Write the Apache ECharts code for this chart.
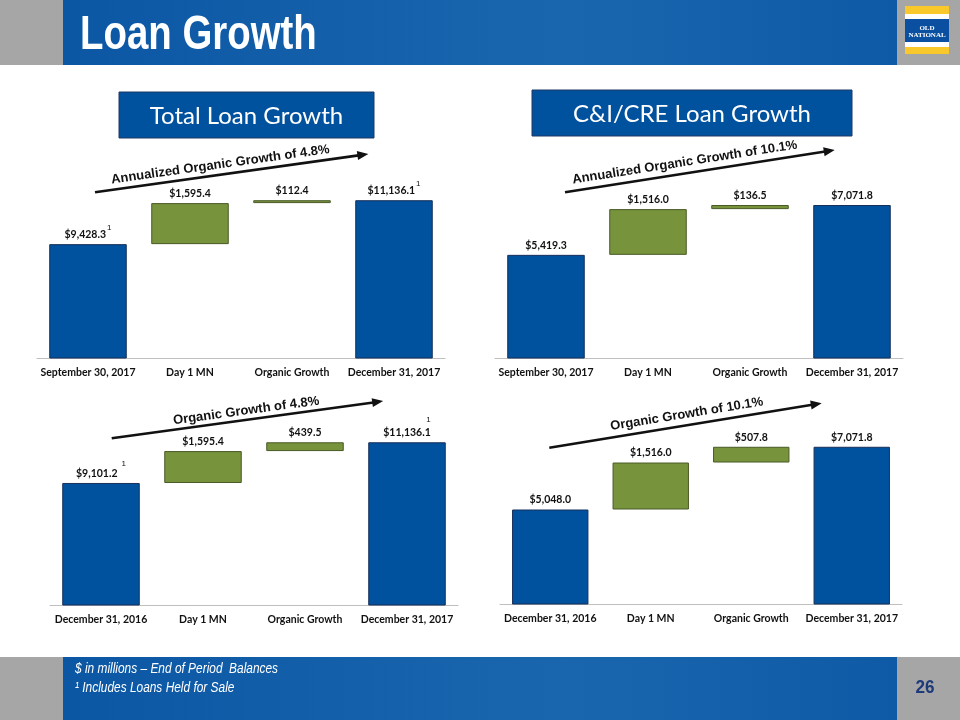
<!DOCTYPE html>
<html>
<head>
<meta charset="utf-8">
<script src="https://cdn.jsdelivr.net/npm/echarts@6/dist/echarts.min.js"></script>
<style>
html,body{margin:0;padding:0;background:#ffffff;}
#c{width:960px;height:720px;}
</style>
</head>
<body>
<div id="c"></div>
<script>
// ---------- data ----------
const categoriesQuarter = ['September 30, 2017', 'Day 1 MN', 'Organic Growth', 'December 31, 2017'];
const categoriesYear = ['December 31, 2016', 'Day 1 MN', 'Organic Growth', 'December 31, 2017'];

// [start balance, Day 1 MN, organic growth, end balance]  ($ in millions)
const totalQuarterValues = [9428.3, 1595.4, 112.4, 11136.1];
const ciCreQuarterValues = [5419.3, 1516.0, 136.5, 7071.8];
const totalYearValues = [9101.2, 1595.4, 439.5, 11136.1];
const ciCreYearValues = [5048.0, 1516.0, 507.8, 7071.8];

// footnote "1" markers (Includes Loans Held for Sale)
const totalQuarterNotes = [1, 0, 0, 1];
const ciCreQuarterNotes = [0, 0, 0, 0];
const totalYearNotes = [1, 0, 0, 1];
const ciCreYearNotes = [0, 0, 0, 0];

const growthLabels = ['Annualized Organic Growth of 4.8%', 'Annualized Organic Growth of 10.1%', 'Organic Growth of 4.8%', 'Organic Growth of 10.1%'];
const panelTitles = ['Total Loan Growth', 'C&I/CRE Loan Growth'];

// value-axis ranges for each panel
const axisMins = [5000, 2000, 3000, 2000];
const axisMaxs = [12000, 8000, 12000, 8000];

// ---------- styling / layout ----------
const BLUE = '#00519E';
const GREEN = '#77933C';
const LABEL_FONT = 'Lato, "Open Sans", sans-serif';
const ARIAL = '"Liberation Sans", Arial, sans-serif';

const panels = [
  { values: totalQuarterValues, cats: categoriesQuarter, notes: totalQuarterNotes, noteMode: ['a', null, null, 'a'],
    grid: { left: 37, top: 178, width: 408, height: 180 } },
  { values: ciCreQuarterValues, cats: categoriesQuarter, notes: ciCreQuarterNotes, noteMode: [null, null, null, null],
    grid: { left: 495, top: 177, width: 408, height: 181 } },
  { values: totalYearValues, cats: categoriesYear, notes: totalYearNotes, noteMode: ['b', null, null, 'above'],
    grid: { left: 50, top: 425, width: 408, height: 180 } },
  { values: ciCreYearValues, cats: categoriesYear, notes: ciCreYearNotes, noteMode: [null, null, null, null],
    grid: { left: 500, top: 418, width: 402, height: 186 } }
];

const fmt = v => '$' + v.toLocaleString('en-US', { minimumFractionDigits: 1, maximumFractionDigits: 1 });

const valStyle = { fontFamily: LABEL_FONT, fontWeight: 'bold', fontSize: 10.5, color: '#111', verticalAlign: 'bottom' };
const rich = {
  v: Object.assign({ lineHeight: 13 }, valStyle),
  va: Object.assign({ lineHeight: 16.5 }, valStyle),
  vb: Object.assign({ lineHeight: 19.5 }, valStyle),
  s: { fontFamily: ARIAL, fontSize: 8, color: '#111', lineHeight: 8, verticalAlign: 'top', padding: [0, 0, 0, 1] },
  sb: { fontFamily: ARIAL, fontSize: 8, color: '#111', lineHeight: 8, verticalAlign: 'top', padding: [0, 0, 0, 4] },
  sa: { fontFamily: ARIAL, fontSize: 8, color: '#111', lineHeight: 10, align: 'right', padding: [0, 0, 0, 0] }
};

function labelText(panel, i, value) {
  const t = fmt(value);
  if (!panel.notes[i]) return '{v|' + t + '}';
  const mode = panel.noteMode[i];
  if (mode === 'above') return '{sa|1}\n{v|' + t + '}';
  if (mode === 'b') return '{vb|' + t + '}{sb|1}';
  return '{va|' + t + '}{s|1}';
}

const grids = [], xAxes = [], yAxes = [], series = [];
panels.forEach((p, k) => {
  grids.push(Object.assign({ containLabel: false, outerBoundsMode: 'none' }, p.grid));
  xAxes.push({
    type: 'category', gridIndex: k, data: p.cats,
    axisTick: { show: false },
    axisLine: { lineStyle: { color: '#BFBFBF', width: 1 } },
    axisLabel: { interval: 0, margin: 9, color: '#111', fontFamily: LABEL_FONT, fontWeight: 'bold', fontSize: 10.5 },
    splitLine: { show: false }
  });
  yAxes.push({ type: 'value', gridIndex: k, min: axisMins[k], max: axisMaxs[k], show: false, splitLine: { show: false } });

  const v = p.values;
  const base = [0, v[0], v[0] + v[1], 0];
  const deltas = ['-', v[1], v[2], '-'];
  const totals = [v[0], '-', '-', v[3]];
  const stack = 'w' + k;
  series.push({
    type: 'bar', xAxisIndex: k, yAxisIndex: k, stack, data: base, barWidth: '76%',
    itemStyle: { color: 'rgba(0,0,0,0)' }, silent: true, clip: true, label: { show: false }
  });
  series.push({
    type: 'bar', xAxisIndex: k, yAxisIndex: k, stack, data: deltas, barWidth: '76%', clip: true,
    itemStyle: { color: GREEN, borderColor: '#4A5A26', borderWidth: 1 },
    label: { show: true, position: 'top', distance: 4, rich, formatter: prm => labelText(p, prm.dataIndex, v[prm.dataIndex]) }
  });
  series.push({
    type: 'bar', xAxisIndex: k, yAxisIndex: k, stack, data: totals, barWidth: '76%', clip: true,
    itemStyle: { color: BLUE, borderColor: '#17305A', borderWidth: 1 },
    label: { show: true, position: 'top', distance: 4, rich, formatter: prm => labelText(p, prm.dataIndex, v[prm.dataIndex]) }
  });
});

// ---------- decorations ----------
function arrow(x, y, len, deg, text, along, offset) {
  return {
    type: 'group', x, y, rotation: deg * Math.PI / 180, silent: true,
    children: [
      { type: 'line', shape: { x1: 0, y1: 0, x2: len - 8, y2: 0 }, style: { stroke: '#111', lineWidth: 2.6 } },
      { type: 'polygon', shape: { points: [[len, 0], [len - 11, -4.5], [len - 11, 4.5]] }, style: { fill: '#111' } },
      { type: 'text', x: along, y: -offset, style: { text, align: 'center', verticalAlign: 'middle', font: 'bold 13px ' + ARIAL, fill: '#111' } }
    ]
  };
}

function titleBox(x, y, w, h, text) {
  return [
    { type: 'rect', shape: { x, y, width: w, height: h }, style: { fill: BLUE, stroke: '#1F3864', lineWidth: 1 }, silent: true },
    { type: 'text', x: x + w / 2, y: y + h / 2 + 1, style: { text, align: 'center', verticalAlign: 'middle', font: '24px ' + LABEL_FONT, fill: '#fff' }, silent: true }
  ];
}

const bandFill = () => new echarts.graphic.LinearGradient(0, 0, 1, 0, [
  { offset: 0, color: '#0B57A4' }, { offset: 0.6, color: '#1A66AE' }, { offset: 1, color: '#0E5AA6' }]);

const graphic = [
  // header
  { type: 'rect', shape: { x: 0, y: 0, width: 63, height: 65 }, style: { fill: '#A6A6A6' } },
  { type: 'rect', shape: { x: 63, y: 0, width: 834, height: 65 }, style: { fill: bandFill() } },
  { type: 'rect', shape: { x: 897, y: 0, width: 63, height: 65 }, style: { fill: '#A6A6A6' } },
  { type: 'text', x: 80, y: 36, scaleX: 0.8, style: { text: 'Loan Growth', align: 'left', verticalAlign: 'middle', font: 'bold 48px ' + ARIAL, fill: '#fff' } },
  // logo
  { type: 'rect', shape: { x: 905, y: 6, width: 44, height: 8 }, style: { fill: '#F9C92C' } },
  { type: 'rect', shape: { x: 905, y: 14, width: 44, height: 5 }, style: { fill: '#ffffff' } },
  { type: 'rect', shape: { x: 905, y: 19, width: 44, height: 23 }, style: { fill: '#0A4FA0' } },
  { type: 'rect', shape: { x: 905, y: 42, width: 44, height: 5 }, style: { fill: '#ffffff' } },
  { type: 'rect', shape: { x: 905, y: 47, width: 44, height: 7 }, style: { fill: '#F9C92C' } },
  { type: 'text', x: 927, y: 28, style: { text: 'OLD', align: 'center', verticalAlign: 'middle', font: 'bold 7px "Liberation Serif", "DejaVu Serif", serif', fill: '#fff' } },
  { type: 'text', x: 927, y: 35.5, style: { text: 'NATIONAL', align: 'center', verticalAlign: 'middle', font: 'bold 7px "Liberation Serif", "DejaVu Serif", serif', fill: '#fff' } },
  // footer
  { type: 'rect', shape: { x: 0, y: 657, width: 63, height: 63 }, style: { fill: '#A6A6A6' } },
  { type: 'rect', shape: { x: 63, y: 657, width: 834, height: 63 }, style: { fill: bandFill() } },
  { type: 'rect', shape: { x: 897, y: 657, width: 63, height: 63 }, style: { fill: '#A6A6A6' } },
  { type: 'text', x: 75, y: 669.5, scaleX: 0.85, style: { text: '$ in millions \u2013 End of Period  Balances', align: 'left', verticalAlign: 'middle', font: 'italic 14px ' + ARIAL, fill: '#fff' } },
  { type: 'text', x: 75, y: 688, scaleX: 0.85, style: { text: '\u00b9 Includes Loans Held for Sale', align: 'left', verticalAlign: 'middle', font: 'italic 14px ' + ARIAL, fill: '#fff' } },
  { type: 'text', x: 925, y: 688, scaleX: 0.9, style: { text: '26', align: 'center', verticalAlign: 'middle', font: 'bold 19px ' + ARIAL, fill: '#1F3A7A' } },
  // panel titles
  ...titleBox(119, 92, 255, 46, panelTitles[0]),
  ...titleBox(532, 90, 320, 46, panelTitles[1]),
  // growth arrows
  arrow(95, 192.3, 276, 7.98, growthLabels[0], 128, 10),
  arrow(565, 192.3, 273, 8.9, growthLabels[1], 123, 11),
  arrow(111.7, 438.3, 274, 7.8, growthLabels[2], 137, 9),
  arrow(549.3, 447.7, 276, 9.26, growthLabels[3], 141, 11)
];

const chart = echarts.init(document.getElementById('c'), null, { renderer: 'canvas' });
chart.setOption({
  animation: false,
  backgroundColor: '#ffffff',
  grid: grids,
  xAxis: xAxes,
  yAxis: yAxes,
  series,
  graphic
});
</script>
</body>
</html>
